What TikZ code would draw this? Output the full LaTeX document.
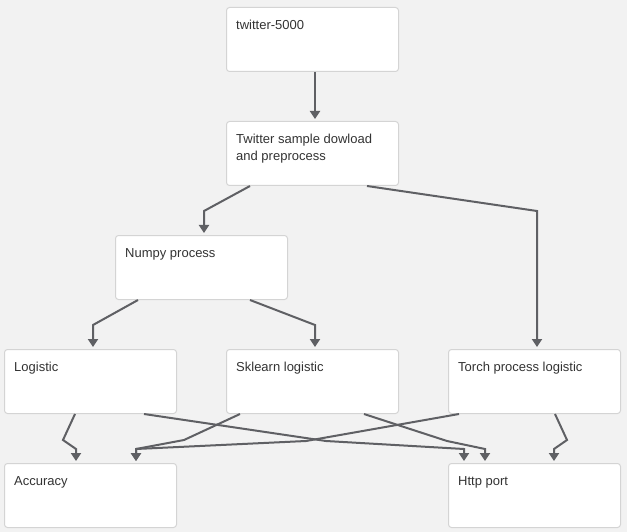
\documentclass[tikz,border=0pt]{standalone}
\usepackage{fontspec}
\setmainfont{Liberation Sans}
\usetikzlibrary{arrows.meta,calc}
\definecolor{bgc}{HTML}{F2F2F2}
\definecolor{bordc}{HTML}{D4D4D4}
\definecolor{edgec}{HTML}{5F6064}
\definecolor{txtc}{HTML}{333333}
\tikzset{
  boxnode/.style={draw=bordc, line width=1bp, fill=white, rounded corners=3bp, anchor=north west,
    minimum width=172bp, minimum height=64bp, inner sep=0pt},
  txtnode/.style={anchor=north west, inner sep=0pt, text=txtc, align=left,
    font=\fontsize{13bp}{17bp}\selectfont},
  edge/.style={draw=edgec, line width=2bp, -{Triangle[width=10bp,length=8bp]}}
}
\begin{document}
\begin{tikzpicture}[x=1bp,y=-1bp]
\fill[bgc] (0,0) rectangle (627,532);
\useasboundingbox (0,0) rectangle (627,532);

\node[boxnode] (t5) at (226,7) {};
\node[boxnode] (ts) at (226,121) {};
\node[boxnode] (np) at (115,235) {};
\node[boxnode] (lg) at (4,349) {};
\node[boxnode] (sk) at (226,349) {};
\node[boxnode] (tp) at (448,349) {};
\node[boxnode] (ac) at (4,463) {};
\node[boxnode] (hp) at (448,463) {};

\node[txtnode] (t5t) at ($(t5.north west)+(10,10)$) {\strut twitter-5000};
\node[txtnode] (tst) at ($(ts.north west)+(10,10)$) {\strut Twitter sample dowload\\\strut and preprocess};
\node[txtnode] (npt) at ($(np.north west)+(10,10)$) {\strut Numpy process};
\node[txtnode] (lgt) at ($(lg.north west)+(10,10)$) {\strut Logistic};
\node[txtnode] (skt) at ($(sk.north west)+(10,10)$) {\strut Sklearn logistic};
\node[txtnode] (tpt) at ($(tp.north west)+(10,10)$) {\strut Torch process logistic};
\node[txtnode] (act) at ($(ac.north west)+(10,10)$) {\strut Accuracy};
\node[txtnode] (hpt) at ($(hp.north west)+(10,10)$) {\strut Http port};

% edges
\draw[edge] ($(t5.south west)+(89,0)$) -- ($(ts.north west)+(89,-2)$);
\draw[edge] ($(ts.south west)+(24,0)$) -- (204,211) -- ($(np.north west)+(89,-2)$);
\draw[edge] ($(ts.south west)+(141,0)$) -- (537,211) -- ($(tp.north west)+(89,-2)$);
\draw[edge] ($(np.south west)+(23,0)$) -- (93,325) -- ($(lg.north west)+(89,-2)$);
\draw[edge] ($(np.south west)+(135,0)$) -- (315,325) -- ($(sk.north west)+(89,-2)$);
\draw[edge] ($(lg.south west)+(71,0)$) -- (63,440) -- (76,449) -- ($(ac.north west)+(72,-2)$);
\draw[edge] ($(lg.south west)+(140,0)$) -- (326,441) -- (464,449) -- ($(hp.north west)+(16,-2)$);
\draw[edge] ($(sk.south west)+(14,0)$) -- (184,440) -- (136,449) -- ($(ac.north west)+(132,-2)$);
\draw[edge] ($(sk.south west)+(138,0)$) -- (447,441) -- (485,449) -- ($(hp.north west)+(37,-2)$);
\draw[edge] ($(tp.south west)+(11,0)$) -- (306,441) -- (136,449) -- ($(ac.north west)+(132,-2)$);
\draw[edge] ($(tp.south west)+(107,0)$) -- (567,440) -- (554,449) -- ($(hp.north west)+(106,-2)$);
\end{tikzpicture}
\end{document}
